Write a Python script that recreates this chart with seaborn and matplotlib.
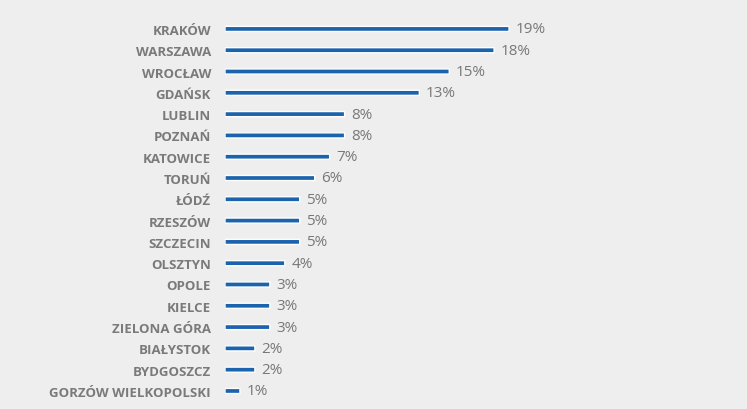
import matplotlib
matplotlib.use('Agg')
import matplotlib.pyplot as plt
import seaborn as sns
import pandas as pd

cities = ['KRAKÓW', 'WARSZAWA', 'WROCŁAW', 'GDAŃSK', 'LUBLIN', 'POZNAŃ',
          'KATOWICE', 'TORUŃ', 'ŁÓDŹ', 'RZESZÓW', 'SZCZECIN', 'OLSZTYN',
          'OPOLE', 'KIELCE', 'ZIELONA GÓRA', 'BIAŁYSTOK', 'BYDGOSZCZ',
          'GORZÓW WIELKOPOLSKI']
values = [19, 18, 15, 13, 8, 8, 7, 6, 5, 5, 5, 4, 3, 3, 3, 2, 2, 1]

df = pd.DataFrame({'city': cities, 'value': values})

sns.set_style('white')
plt.rcParams['font.family'] = ['Open Sans', 'DejaVu Sans']

fig = plt.figure(figsize=(7.47, 4.10), dpi=100)
fig.patch.set_facecolor('#eeeeee')
ax = fig.add_axes([225 / 747, 0.018, 522 / 747, 0.935])
ax.set_facecolor('none')

sns.barplot(data=df, x='value', y='city', orient='h', color='#1b63ad',
            width=0.24, saturation=1, ax=ax)
for p in ax.patches:
    p.set_snap(False)

for i, v in enumerate(values):
    ax.text(v + 0.45, i, f'{v}%', va='center', ha='left', fontsize=11,
            color='#787878')

ax.set_xlim(0, 522 / 14.95)
ax.set_ylim(17.5, -0.5)
ax.set_xlabel('')
ax.set_ylabel('')
ax.set_xticks([])
ax.tick_params(axis='y', length=0, pad=10)
for lab in ax.get_yticklabels():
    lab.set_fontsize(9.5)
    lab.set_color('#7a7a7a')
    lab.set_fontweight('bold')
sns.despine(ax=ax, left=True, bottom=True)

fig.savefig('out.png', dpi=100, facecolor=fig.get_facecolor())
